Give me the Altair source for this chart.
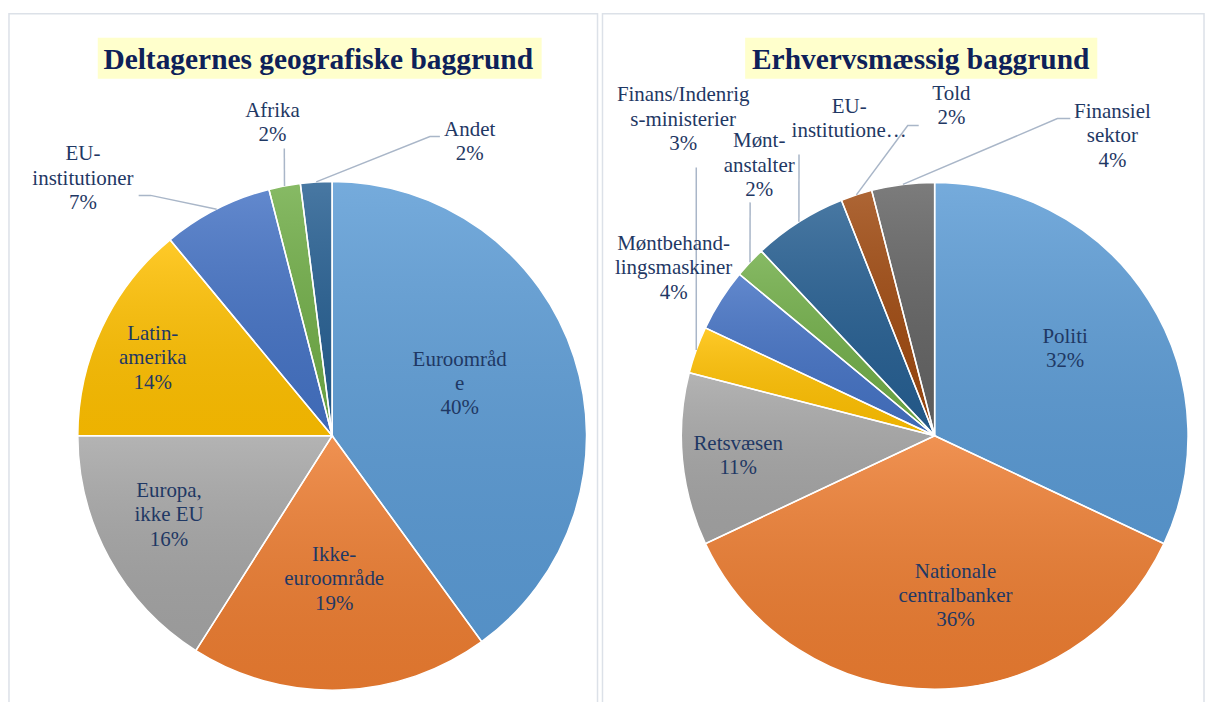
import math
import altair as alt
import pandas as pd

# ---------------- data ----------------
geo_title = "Deltagernes geografiske baggrund"
geo_labels = ["Euroområd\ne", "Ikke-\neuroområde", "Europa,\nikke EU", "Latin-\namerika",
              "EU-\ninstitutioner", "Afrika", "Andet"]
geo_values = [40, 19, 16, 14, 7, 2, 2]
geo_show_pct = [True, True, True, True, True, True, True]

erh_title = "Erhvervsmæssig baggrund"
erh_labels = ["Politi", "Nationale\ncentralbanker", "Retsvæsen", "Finans/Indenrig\ns-ministerier",
              "Møntbehand-\nlingsmaskiner", "Mønt-\nanstalter", "EU-\ninstitutione…", "Told",
              "Finansiel\nsektor"]
erh_values = [32, 36, 11, 3, 4, 2, 6, 2, 4]
erh_show_pct = [True, True, True, True, True, True, False, True, True]

# ---------------- styles / layout ----------------
geo_colors = ["#5B9BD5", "#ED7D31", "#A5A5A5", "#FFC000", "#4472C4", "#70AD47", "#255E91"]
erh_colors = ["#5B9BD5", "#ED7D31", "#A5A5A5", "#FFC000", "#4472C4", "#70AD47", "#255E91",
              "#9E480E", "#636363"]

FONT = "Liberation Serif"
LABEL_COLOR = "#1F3864"
TITLE_COLOR = "#0E2159"
LEADER_COLOR = "#A9B6C8"
PANEL_H = 692
LINE_H = 24.5

# label placement (radius px, angular nudge deg from slice middle)
geo_label_r = [138, 144, 182, 196, 359, 319, 325]
geo_label_nudge = [-4.1, 1.0, 2.8, -1.8, -17.1, 0.0, 28.7]
erh_label_r = [157, 162, 198, 405, 311, 323, 329, 331, 349]
erh_label_nudge = [-1.2, -7.4, -0.4, 31.7, 0.3, 13.8, 17.3, 20.9, 37.9]

# leader line elbows relative to pie centre: slice index -> list of points
geo_leaders = {4: [(-182, -241), (-194, -241)],
               5: [(-48, -288)],
               6: [(98, -300), (108, -300)]}
erh_leaders = {3: [(-239, -269)],
               5: [(-185, -234)],
               6: [(-136, -282)],
               7: [(-27, -311), (-16, -311)],
               8: [(123, -318), (136, -318)]}

gradient = alt.LinearGradient(
    gradient="linear",
    stops=[alt.GradientStop(color="rgba(255,255,255,0.16)", offset=0),
           alt.GradientStop(color="rgba(0,0,0,0.07)", offset=1)],
    x1=0, x2=0, y1=0, y2=1,
)


def mids(values):
    tot = sum(values)
    out, acc = [], 0.0
    for v in values:
        out.append((acc + v / 2) / tot * 360.0)
        acc += v
    return out


def panel(title, labels, values, colors, show_pct, label_r, label_nudge, leaders,
          width, cx, cy, R, box, title_x, key):
    n = len(values)
    cat = f"cat_{key}"
    df = pd.DataFrame({"idx": list(range(n)), cat: labels, "value": values})

    base = alt.Chart(df).encode(
        theta=alt.Theta("value:Q", stack=True),
        order=alt.Order("idx:Q"),
        x=alt.value(cx), y=alt.value(cy),
    )
    arcs = base.mark_arc(outerRadius=R).encode(
        color=alt.Color(f"{cat}:N", scale=alt.Scale(domain=labels, range=colors), legend=None)
    )
    shade = base.mark_arc(outerRadius=R, fill=gradient, stroke="white", strokeWidth=1.5)

    m = mids(values)
    texts, lxs, lys = [], [], []
    for i in range(n):
        t = labels[i] + (f"\n{values[i]}%" if show_pct[i] else "")
        nlines = t.count("\n") + 1
        a = math.radians(m[i] + label_nudge[i])
        texts.append(t)
        lxs.append(cx + label_r[i] * math.sin(a))
        # vega puts the first line at y for multi-line text: shift so block is centred
        lys.append(cy - label_r[i] * math.cos(a) - (nlines - 1) * LINE_H / 2)
    ldf = pd.DataFrame({"text": texts, "lx": lxs, "ly": lys})
    text = alt.Chart(ldf).mark_text(
        font=FONT, fontSize=21, lineHeight=LINE_H, align="center", baseline="middle",
        color=LABEL_COLOR, lineBreak="\n",
    ).encode(
        x=alt.X("lx:Q", scale=None, axis=None),
        y=alt.Y("ly:Q", scale=None, axis=None),
        text="text:N",
    )

    rows = []
    for i, pts in leaders.items():
        a = math.radians(m[i])
        rows.append({"lid": i, "pt": 0, "px": cx + R * math.sin(a), "py": cy - R * math.cos(a)})
        for k, (dx, dy) in enumerate(pts):
            rows.append({"lid": i, "pt": k + 1, "px": cx + dx, "py": cy + dy})
    lines = alt.Chart(pd.DataFrame(rows)).mark_line(
        color=LEADER_COLOR, strokeWidth=1.5
    ).encode(
        x=alt.X("px:Q", scale=None, axis=None),
        y=alt.Y("py:Q", scale=None, axis=None),
        detail="lid:N",
        order="pt:Q",
    )

    tdf = pd.DataFrame({"t": [title]})
    tbox = alt.Chart(tdf).mark_rect(color="#FFFFCC").encode(
        x=alt.value(box[0]), x2=alt.value(box[1]), y=alt.value(box[2]), y2=alt.value(box[3])
    )
    ttext = alt.Chart(tdf).mark_text(
        font=FONT, fontSize=29.5, fontWeight="bold", color=TITLE_COLOR,
        align="center", baseline="alphabetic",
    ).encode(x=alt.value(title_x), y=alt.value(55), text="t:N")

    return alt.layer(tbox, ttext, arcs, shade, lines, text).properties(
        width=width, height=PANEL_H
    )


left = panel(geo_title, geo_labels, geo_values, geo_colors, geo_show_pct,
             geo_label_r, geo_label_nudge, geo_leaders,
             width=590, cx=324, cy=423, R=255, box=(89, 534, 24, 65), title_x=310, key="geo")
right = panel(erh_title, erh_labels, erh_values, erh_colors, erh_show_pct,
              erh_label_r, erh_label_nudge, erh_leaders,
              width=603, cx=333, cy=423, R=254, box=(143, 496, 24, 65), title_x=319, key="erh")

chart = alt.hconcat(left, right, spacing=3).resolve_scale(color="independent").properties(
    padding={"left": 8, "top": 12, "right": 0, "bottom": 0},
    background="white",
).configure_view(stroke="#DCE1E8", strokeWidth=1.5)

chart.save("out.html", embed_options={"renderer": "svg", "actions": False})
